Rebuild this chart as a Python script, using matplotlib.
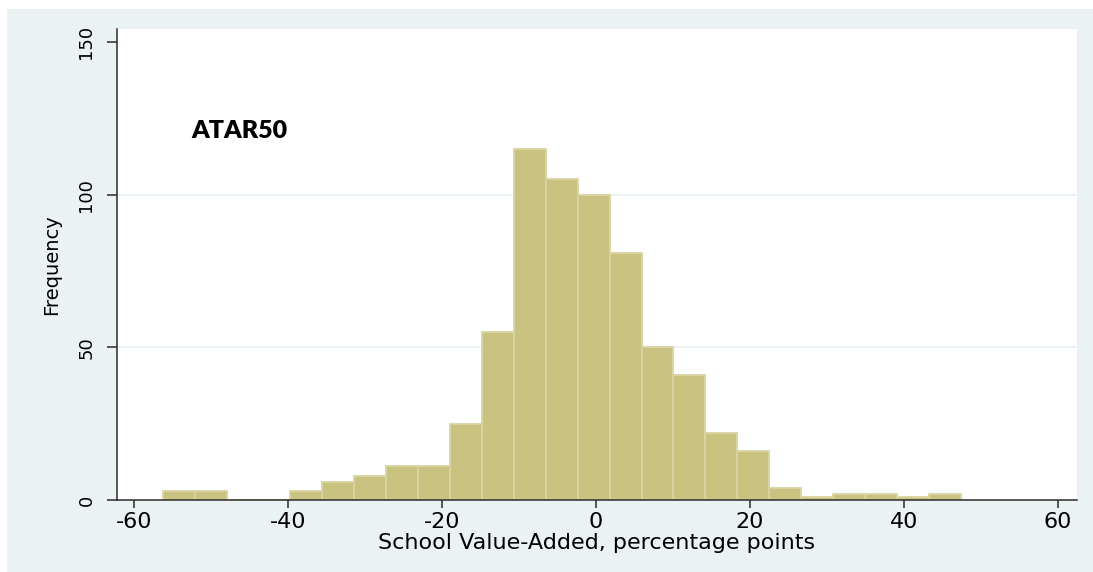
import numpy as np
import matplotlib.pyplot as plt
from matplotlib.patches import Rectangle

# histogram of school value-added (ATAR50), 25 equal-width bins
bin_start = -56.3
bin_width = 4.148
counts = [3, 3, 0, 0, 3, 6, 8, 11, 11, 25, 55, 115, 105, 100, 81,
          50, 41, 22, 16, 4, 1, 2, 2, 1, 2]

x_ticks = [-60, -40, -20, 0, 20, 40, 60]
y_ticks = [0, 50, 100, 150]
grid_levels = [50, 100]

bg = '#EAF2F3'
bar_fill = '#C9C280'
bar_edge = '#DAD4A2'
axis_col = '#2b2b2b'

edges = bin_start + bin_width * np.arange(len(counts) + 1)

fig = plt.figure(figsize=(10.93, 5.72), dpi=100, facecolor='white')
fig.patches.append(Rectangle((7 / 1093, 0), 1086 / 1093, 563 / 572,
                             transform=fig.transFigure, facecolor=bg,
                             edgecolor='none', zorder=-1))

ax = fig.add_axes([116.5 / 1093, 72 / 572, 960.5 / 1093, 471 / 572])
ax.set_facecolor('white')

for lvl in grid_levels:
    ax.axhline(lvl, color=bg, lw=1.3, zorder=0)

ax.bar(edges[:-1], counts, width=bin_width, align='edge',
       color=bar_fill, edgecolor=bar_edge, linewidth=1.3, zorder=2)

ax.set_xlim(-62.3, 62.5)
ax.set_ylim(0, 154.3)

ax.spines['top'].set_visible(False)
ax.spines['right'].set_visible(False)
for s in ('left', 'bottom'):
    ax.spines[s].set_color(axis_col)
    ax.spines[s].set_linewidth(1.1)

ax.set_xticks(x_ticks)
ax.set_xticklabels([str(v) for v in x_ticks])
ax.set_yticks(y_ticks)
ax.set_yticklabels([str(v) for v in y_ticks], rotation=90, va='center')

ax.tick_params(axis='x', length=5.6, width=1.1, color=axis_col,
               labelsize=16, pad=3)
ax.tick_params(axis='y', length=7.2, width=1.1, color=axis_col,
               labelsize=13, pad=8)

ax.set_xlabel('School Value-Added, percentage points', fontsize=16,
              labelpad=1)
ax.set_ylabel('Frequency', fontsize=14, labelpad=12)

ax.text(-52.6, 121, 'ATAR50', fontsize=18, fontweight='heavy',
        family='Lato', ha='left', va='center')

fig.savefig('out.png', dpi=100, facecolor=fig.get_facecolor())
